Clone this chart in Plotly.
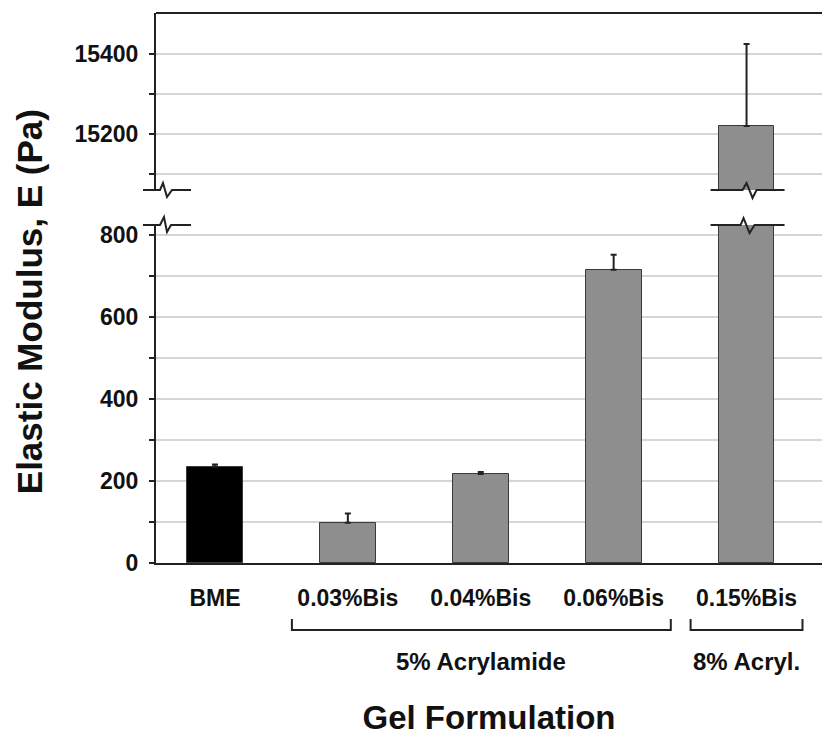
import plotly.graph_objects as go

categories = ["BME", "0.03%Bis", "0.04%Bis", "0.06%Bis", "0.15%Bis"]
modulus = [235, 98, 217, 715, 15220]
modulus_err = [5, 23, 5, 37, 205]
bar_colors = ["#000000", "#8e8e8e", "#8e8e8e", "#8e8e8e", "#8e8e8e"]

low_ticks = [0, 100, 200, 300, 400, 500, 600, 700, 800]
low_ticktext = ["0", "", "200", "", "400", "", "600", "", "800"]
high_ticks = [15100, 15200, 15300, 15400]
high_ticktext = ["", "15200", "", "15400"]

group_labels = ["5% Acrylamide", "8% Acryl."]

FONT = "Liberation Sans, Arial, sans-serif"
DARK = "#222222"
GRID = "#d6d6d6"

LOW_DOM = [0, 0.6145]
HIGH_DOM = [0.6782, 1]
XRANGE = [-0.4436, 4.5677]


def bar_trace(xa, ya):
    return go.Bar(
        x=categories, y=modulus, xaxis=xa, yaxis=ya, width=0.42,
        marker=dict(color=bar_colors, line=dict(color="#3a3a3a", width=1)),
        error_y=dict(type="data", symmetric=False, array=modulus_err,
                     arrayminus=[0] * len(modulus_err), color=DARK,
                     thickness=2, width=3),
        showlegend=False, hoverinfo="x+y",
    )


fig = go.Figure([bar_trace("x", "y"), bar_trace("x2", "y2")])

tickfont = dict(family=FONT, size=23, color="#111111", weight="bold")

fig.update_layout(
    width=822, height=736,
    margin=dict(l=156, r=0, t=13, b=173),
    paper_bgcolor="white", plot_bgcolor="white",
    bargap=0,
    xaxis=dict(domain=[0, 1], anchor="y", type="category", range=XRANGE,
               showline=True, linecolor=DARK, linewidth=2, ticks="",
               showgrid=False, tickfont=tickfont, ticklabelstandoff=13,
               title=dict(text="Gel Formulation", standoff=96,
                          font=dict(family=FONT, size=33, color="#111111", weight="bold"))),
    xaxis2=dict(domain=[0, 1], anchor="y2", matches="x", visible=False, range=XRANGE),
    yaxis=dict(domain=LOW_DOM, anchor="x", range=[0, 824.4],
               tickvals=low_ticks, ticktext=low_ticktext,
               showline=True, linecolor=DARK, linewidth=2,
               ticks="outside", ticklen=5, tickcolor=DARK, tickwidth=2,
               showgrid=True, gridcolor=GRID, gridwidth=1.5, zeroline=False,
               tickfont=tickfont, ticklabelstandoff=6),
    yaxis2=dict(domain=HIGH_DOM, anchor="x2", range=[15060, 15502.5],
                tickvals=high_ticks, ticktext=high_ticktext,
                showline=True, linecolor=DARK, linewidth=2,
                ticks="outside", ticklen=5, tickcolor=DARK, tickwidth=2,
                showgrid=True, gridcolor=GRID, gridwidth=1.5, zeroline=False,
                tickfont=tickfont, ticklabelstandoff=6),
)

# y-axis title spanning both panels
fig.add_annotation(text="Elastic Modulus, E (Pa)", xref="paper", yref="paper",
                   x=-0.19, y=0.475, textangle=-90, showarrow=False,
                   xanchor="center", yanchor="middle",
                   font=dict(family=FONT, size=35, color="#111111", weight="bold"))

shapes = []
# top border
shapes.append(dict(type="line", xref="paper", yref="paper", x0=0, x1=1, y0=1, y1=1,
                   line=dict(color=DARK, width=2)))

# axis break marks (pixel paths)
up_zig = "M-13,0 L4,0 L7,7 L11,-7 L16,0 L35,0"
lo_zig = "M-13,0 L4,0 L8,8 L11,-7 L15,0 L35,0"
for path, ya in [(up_zig, HIGH_DOM[0]), (lo_zig, LOW_DOM[1])]:
    shapes.append(dict(type="path", xref="paper", yref="paper",
                       xsizemode="pixel", ysizemode="pixel", xanchor=0, yanchor=ya,
                       path=path, line=dict(color=DARK, width=2)))
bar_up = "M-36,0 L-4,0 L0,7 L6,-8 L10,0 L38,0"
bar_lo = "M-36,0 L-6,0 L-3,7 L3,-8 L8,0 L38,0"
for path, ya in [(bar_up, HIGH_DOM[0]), (bar_lo, LOW_DOM[1])]:
    shapes.append(dict(type="path", xref="x", yref="paper",
                       xsizemode="pixel", ysizemode="pixel", xanchor=4, yanchor=ya,
                       path=path, line=dict(color=DARK, width=2)))

# group brackets (x in category units, y in pixels below the axis)
brackets = [(0.579, 3.43), (3.579, 4.421)]
for x0, x1 in brackets:
    shapes.append(dict(type="path", xref="x", yref="paper", ysizemode="pixel", yanchor=0,
                       path=f"M{x0},-56 L{x0},-67 L{x1},-67 L{x1},-56",
                       line=dict(color=DARK, width=2)))
fig.update_layout(shapes=shapes)

for label, xc in zip(group_labels, [2, 4]):
    fig.add_annotation(text=label, xref="x", yref="paper", x=xc, y=0, yshift=-98,
                       showarrow=False, xanchor="center", yanchor="middle",
                       font=dict(family=FONT, size=24, color="#111111", weight="bold"))

fig.write_html("out.html")
